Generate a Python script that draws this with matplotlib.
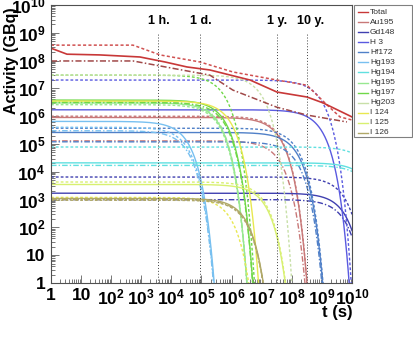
import numpy as np
import matplotlib
matplotlib.use('Agg')
import matplotlib.pyplot as plt
import matplotlib.transforms as mtransforms
from matplotlib.lines import Line2D
from matplotlib.patches import Rectangle

plt.rcParams['font.family'] = ['Liberation Sans', 'DejaVu Sans']
plt.rcParams['font.weight'] = 'bold'
plt.rcParams['mathtext.fontset'] = 'custom'
plt.rcParams['mathtext.rm'] = 'Liberation Sans:bold'
plt.rcParams['mathtext.bf'] = 'Liberation Sans:bold'
plt.rcParams['mathtext.default'] = 'bf'

# isotope data: half-life (s) and activity at t=1 s (GBq) for the three line styles
isotopes = ['Au195', 'Gd148', 'H 3', 'Hf172', 'Hg193', 'Hg194',
            'Hg195', 'Hg197', 'Hg203', 'I 124', 'I 125', 'I 126']
half_life_s = [1.608e7, 2.24e9, 3.888e8, 5.9e7, 1.368e4, 1.4e10,
               1.5e5, 2.31e5, 4.03e6, 3.61e5, 5.13e6, 1.117e6]
a0_solid = [9.0e5, 1.7e3, 1.7e6, 2.6e5, 6.5e5, 2.1e4,
            3.0e6, 3.8e6, 0, 3.5e6, 3.5e3, 1.1e3]
a0_dashed = [1.0e6, 6.5e3, 2.0e7, 3.7e5, 4.0e5, 7.8e4,
             2.6e6, 3.0e7, 3.0e7, 1.2e3, 4.3e3, 9.5e2]
a0_dashdot = [1.3e5, 1.0e3, 0, 1.2e5, 3.0e5, 1.7e4,
              3.3e6, 3.1e6, 0, 0, 0, 1.0e3]
colors = ['#c87878', '#4040b0', '#5a5ae0', '#5080c8', '#78c0f0', '#60e0e0',
          '#98e890', '#70d848', '#c8e0a8', '#e8e850', '#d8f070', '#b0a868']

# total activity
total_t = [1, 3.4, 42, 900, 6200, 3.3e4, 1.9e5, 4.1e6, 3.2e7, 3.2e8, 1.1e9, 1e10]
total_solid = [2.8e8, 1.7e8, 1.6e8, 1.35e8, 8.9e7, 5.9e7, 4.6e7, 2.0e7, 7.4e6, 4.9e6, 3.0e6, 9.4e5]
total_dash_t = [1, 530, 4200, 9e4, 1.1e6, 3.2e7, 3.2e8, 1.5e9, 4e9, 1e10]
total_dashed = [3.6e8, 3.6e8, 1.6e8, 8.9e7, 3.9e7, 2.0e7, 1.3e7, 2.5e6, 9.4e5, 7.3e5]
total_dd_t = [1, 530, 1.9e5, 1.1e6, 3.2e7, 3.2e8, 6.8e9]
total_dashdot = [9.7e7, 9.7e7, 3.0e7, 8.7e6, 2.1e6, 1.1e6, 6.2e5]

marks = [3600, 86400, 3.156e7, 3.156e8]
mark_labels = ['1 h.', '1 d.', '1 y.', '10 y.']

dash = (0, (2, 1.5))
dashdot = (0, (4, 1.5, 1, 1.5))

fig = plt.figure(figsize=(4.13, 3.40), dpi=100)
ax = fig.add_axes([51/413, 1-283/340, 301/413, 278/340])
ax.set_xscale('log')
ax.set_yscale('log')

t = np.logspace(0, 10, 800)
for i, name in enumerate(isotopes):
    for a0, ls in [(a0_dashed[i], dash), (a0_dashdot[i], dashdot), (a0_solid[i], '-')]:
        if a0 <= 0:
            continue
        a = a0 * 2.0 ** (-t / half_life_s[i])
        a[a < 1e-3] = np.nan
        ax.plot(t, a, color=colors[i], ls=ls, lw=1.0)

ax.plot(total_dash_t, total_dashed, color='#d05050', ls=dash, lw=1.1)
ax.plot(total_dd_t, total_dashdot, color='#a04848', ls=dashdot, lw=1.1)
ax.plot(total_t, total_solid, color='#c83838', lw=1.2)

for m, lab in zip(marks, mark_labels):
    ax.plot([m, m], [1, 1e9], color='#404040', ls=(0, (1, 2)), lw=0.7)
    tr = mtransforms.offset_copy(ax.transData, fig=fig, x=-10, y=0, units='dots')
    ax.text(m, 2.6e9, lab, transform=tr, ha='left', va='center',
            fontsize=9, fontweight='bold')

ax.set_xlim(1, 1e10)
ax.set_ylim(1, 1e10)

dec = list(range(11))
xlabs = ['1', '10'] + ['$10^{%d}$' % d for d in dec[2:]]
ax.set_xticks([10.0 ** d for d in dec])
ax.set_xticklabels(xlabs)
ax.set_yticks([10.0 ** d for d in dec])
ax.set_yticklabels(xlabs)
ax.xaxis.set_minor_locator(matplotlib.ticker.LogLocator(base=10, subs=np.arange(2, 10), numticks=20))
ax.yaxis.set_minor_locator(matplotlib.ticker.LogLocator(base=10, subs=np.arange(2, 10), numticks=20))
ax.xaxis.set_minor_formatter(matplotlib.ticker.NullFormatter())
ax.yaxis.set_minor_formatter(matplotlib.ticker.NullFormatter())
ax.tick_params(which='both', direction='in', labelsize=12.5, width=0.6, color='#606060')
ax.tick_params(which='major', length=6)
ax.tick_params(which='minor', length=3)
ax.tick_params(axis='y', pad=4)
ax.tick_params(axis='x', pad=3.5)
for s in ax.spines.values():
    s.set_color('#505050')
    s.set_linewidth(0.8)

fig.text(12/413, 1-7/340, 'Activity (GBq)', rotation=90, ha='center', va='top',
         fontsize=11.5, fontweight='bold')
fig.text(353/413, 1-313/340, 't (s)', ha='right', va='center',
         fontsize=12, fontweight='bold')

# legend box
fig.add_artist(Rectangle((354/413, 1-137/340), 58/413, 132/340, transform=fig.transFigure,
                         facecolor='white', edgecolor='#808080', lw=0.8))
leg_names = ['Total'] + isotopes
leg_colors = ['#c83838'] + colors
for k, (nm, c) in enumerate(zip(leg_names, leg_colors)):
    y = 1 - (12 + k * 10.08) / 340
    fig.add_artist(Line2D([358/413, 368/413], [y, y], transform=fig.transFigure, color=c, lw=1.0))
    fig.text(370/413, y, nm, ha='left', va='center', fontsize=6, fontweight='normal', color='#303030')

fig.savefig('out.png', dpi=100)
